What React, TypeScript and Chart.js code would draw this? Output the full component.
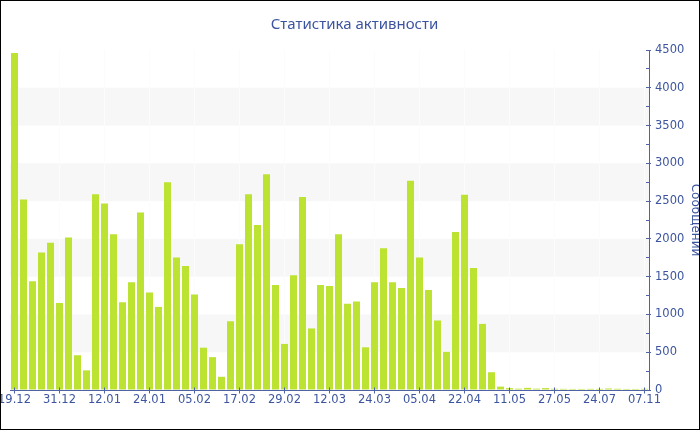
import { useEffect, useRef } from 'react';
import { Chart, registerables } from 'chart.js';

Chart.register(...registerables);

const tickLabels = ['19.12', '31.12', '12.01', '24.01', '05.02', '17.02', '29.02', '12.03', '24.03', '05.04', '22.04', '11.05', '27.05', '24.07', '07.11'];
const labelEvery = 5;

const messages = [
  4460, 2520, 1440, 1820, 1950, 1150, 2020, 460, 260, 2590,
  2470, 2060, 1160, 1425, 2350, 1290, 1100, 2750, 1755, 1640,
  1265, 560, 435, 175, 910, 1930, 2590, 2185, 2855, 1390,
  610, 1520, 2555, 815, 1390, 1375, 2060, 1140, 1170, 565,
  1425, 1875, 1425, 1350, 2770, 1755, 1325, 920, 505, 2090,
  2585, 1615, 875, 235, 45, 25, 18, 28, 18, 25,
  16, 15, 14, 14, 15, 15, 20, 16, 14, 14, 16,
];

const categories = messages.map((_, i) => (i % labelEvery === 0 ? tickLabels[i / labelEvery] : ''));

const yMax = 4500;
const yStep = 500;
const yMinorStep = 250;
const bandStarts = [500, 1500, 2500, 3500];

const TEXT = '#3d559f';
const AXIS = '#4f63a6';
const BAR = '#bce232';

const align = (p: number) => Math.round(p - 0.5) + 0.5;

const bandsPlugin = {
  id: 'bands',
  beforeDraw(chart: any) {
    const { ctx, chartArea, scales } = chart;
    const y = scales.y;
    ctx.save();
    ctx.fillStyle = '#f7f7f7';
    for (const v of bandStarts) {
      const top = y.getPixelForValue(v + yStep);
      const bot = y.getPixelForValue(v);
      ctx.fillRect(chartArea.left, top, chartArea.right - chartArea.left, bot - top);
    }
    ctx.restore();
  },
};

const tickMarksPlugin = {
  id: 'tickMarks',
  afterDraw(chart: any) {
    const { ctx, chartArea, scales } = chart;
    const { x, y } = scales;
    ctx.save();
    ctx.strokeStyle = AXIS;
    ctx.lineWidth = 1;
    ctx.beginPath();
    const ax = align(chartArea.right);
    for (let v = 0; v <= yMax; v += yMinorStep) {
      const py = align(y.getPixelForValue(v));
      const major = v % yStep === 0;
      ctx.moveTo(ax - 3.5, py);
      ctx.lineTo(ax + (major ? 1.5 : 0), py);
    }
    const by = align(chartArea.bottom);
    x.ticks.forEach((_: any, i: number) => {
      const px = align(x.getPixelForTick(i));
      ctx.moveTo(px, by - 3);
      ctx.lineTo(px, by + 3);
    });
    ctx.stroke();
    ctx.restore();
  },
};

export default function App() {
  const ref = useRef<HTMLCanvasElement | null>(null);

  useEffect(() => {
    if (!ref.current) return;
    const chart = new Chart(ref.current, {
      type: 'bar',
      data: {
        labels: categories,
        datasets: [
          {
            label: 'Сообщений',
            data: messages,
            backgroundColor: BAR,
            borderWidth: 0,
            categoryPercentage: 1,
            barPercentage: 0.78,
          },
        ],
      },
      options: {
        animation: false,
        responsive: false,
        maintainAspectRatio: false,
        layout: { padding: { left: 9, right: 0, top: 0, bottom: 0 } },
        plugins: {
          legend: { display: false },
          tooltip: { enabled: false },
          title: {
            display: true,
            text: 'Статистика активности',
            color: TEXT,
            font: { family: 'Noto Sans', size: 15, weight: 'normal' },
            padding: { top: 14.5, bottom: 16.5 },
          },
        },
        scales: {
          x: {
            type: 'category',
            offset: true,
            grid: { display: true, offset: false, color: '#fcfcfc', drawTicks: false },
            border: { display: true, color: AXIS, width: 1 },
            ticks: {
              autoSkip: false,
              maxRotation: 0,
              minRotation: 0,
              padding: 3,
              color: TEXT,
              font: { family: 'DejaVu Sans', size: 11.5 },
            },
            afterBuildTicks: (scale: any) => {
              scale.ticks = scale.ticks.filter((t: any) => t.value % labelEvery === 0);
            },
            afterFit: (scale: any) => {
              scale.height = 39;
              scale.paddingLeft = 0;
              scale.paddingRight = 0;
            },
          },
          y: {
            position: 'right',
            min: 0,
            max: yMax,
            grid: { display: true, color: 'rgba(0,0,0,0)', drawTicks: false },
            border: { display: true, color: AXIS, width: 1 },
            ticks: {
              stepSize: yStep,
              padding: 6,
              color: TEXT,
              font: { family: 'DejaVu Sans', size: 11.5 },
              callback: (v: any) => String(v),
            },
            title: {
              display: true,
              text: 'Сообщений',
              color: TEXT,
              font: { family: 'DejaVu Sans', size: 12, lineHeight: 0.7 },
              padding: { top: 0, bottom: 0 },
            },
            afterFit: (scale: any) => {
              scale.width = 50;
              scale.paddingTop = 0;
              scale.paddingBottom = 0;
            },
          },
        },
      },
      plugins: [bandsPlugin, tickMarksPlugin],
    });
    return () => chart.destroy();
  }, []);

  return (
    <div
      style={{
        position: 'fixed',
        left: 0,
        top: 0,
        width: 700,
        height: 430,
        boxSizing: 'border-box',
        border: '1px solid #000',
        background: '#fff',
      }}
    >
      <canvas ref={ref} width={698} height={428} style={{ display: 'block', width: 698, height: 428 }} />
    </div>
  );
}
